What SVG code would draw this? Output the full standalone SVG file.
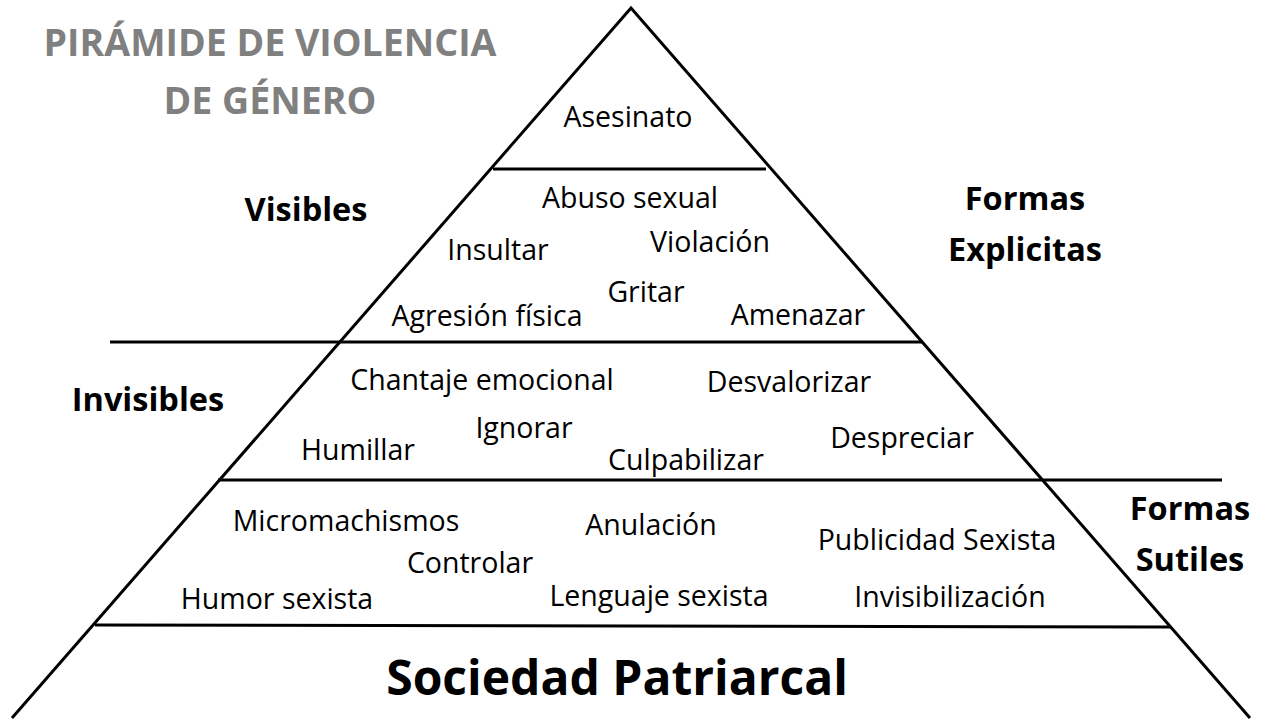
<svg xmlns="http://www.w3.org/2000/svg" width="1280" height="720" viewBox="0 0 1280 720">
<style>
text{font-family:"Open Sans","Liberation Sans",sans-serif;fill:#000;font-size:28.5px}
.b{font-weight:bold;font-size:32.5px}
.t{font-weight:bold;fill:#808080;font-size:37.5px}
line,polyline{stroke:#000;stroke-width:3;fill:none}
</style>
<rect width="1280" height="720" fill="#fff"/>
<g id="connectors">
<polyline points="12,718 631,8 1250,718"/>
<line x1="493" y1="169" x2="766" y2="169"/>
<line x1="110" y1="342" x2="922" y2="342"/>
<line x1="218" y1="480" x2="1222" y2="480"/>
<line x1="95" y1="625" x2="1170" y2="627" stroke-width="4"/>
</g>
<g id="title"><text class="t" x="270" y="56" text-anchor="middle">PIRÁMIDE DE VIOLENCIA</text><text class="t" x="270" y="114" text-anchor="middle">DE GÉNERO</text></g>
<g id="top"><text x="628" y="127" text-anchor="middle">Asesinato</text></g>
<g id="visibles">
<text x="630" y="208" text-anchor="middle">Abuso sexual</text>
<text x="498" y="260" text-anchor="middle">Insultar</text>
<text x="710" y="252" text-anchor="middle">Violación</text>
<text x="646" y="302" text-anchor="middle">Gritar</text>
<text x="487" y="326" text-anchor="middle">Agresión física</text>
<text x="798" y="325" text-anchor="middle">Amenazar</text>
</g>
<g id="invisibles">
<text x="482" y="390" text-anchor="middle">Chantaje emocional</text>
<text x="789" y="392" text-anchor="middle">Desvalorizar</text>
<text x="524" y="438" text-anchor="middle">Ignorar</text>
<text x="358" y="460" text-anchor="middle">Humillar</text>
<text x="902" y="448" text-anchor="middle">Despreciar</text>
<text x="686" y="470" text-anchor="middle">Culpabilizar</text>
</g>
<g id="sutiles">
<text x="346" y="531" text-anchor="middle">Micromachismos</text>
<text x="651" y="535" text-anchor="middle">Anulación</text>
<text x="937" y="550" text-anchor="middle">Publicidad Sexista</text>
<text x="470" y="573" text-anchor="middle">Controlar</text>
<text x="277" y="609" text-anchor="middle">Humor sexista</text>
<text x="659" y="606" text-anchor="middle">Lenguaje sexista</text>
<text x="950" y="607" text-anchor="middle">Invisibilización</text>
</g>
<g id="base"><text x="617" y="695" text-anchor="middle" style="font-weight:bold;font-size:48px">Sociedad Patriarcal</text></g>
<g id="labels">
<text class="b" x="306" y="221" text-anchor="middle">Visibles</text>
<text class="b" x="148" y="411" text-anchor="middle">Invisibles</text>
<text class="b" x="1025" y="210" text-anchor="middle">Formas</text>
<text class="b" x="1025" y="261" text-anchor="middle">Explicitas</text>
<text class="b" x="1190" y="520" text-anchor="middle">Formas</text>
<text class="b" x="1190" y="571" text-anchor="middle">Sutiles</text>
</g>
</svg>
